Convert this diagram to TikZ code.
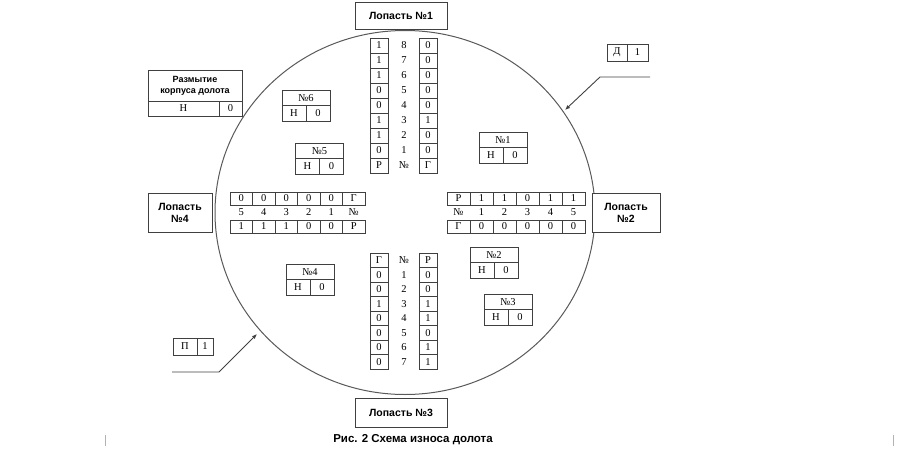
\documentclass[tikz,border=0pt]{standalone}
\usepackage{fontspec}
\setmainfont{Liberation Serif}
\newfontfamily\labfont{Liberation Sans}
\usetikzlibrary{shapes.geometric,arrows.meta}
\newcommand\wearbox[4]{%
  \node[tcell, minimum width=48pt, minimum height=15.5pt] (#1t) at (#2, #3+7.75) {#4};
  \node[tcell, minimum width=24pt, minimum height=15.5pt] (#1h) at (#2-12, #3+23.25) {Н};
  \node[tcell, minimum width=24pt, minimum height=15.5pt] (#1z) at (#2+12, #3+23.25) {0};
}
\begin{document}
\begin{tikzpicture}[x=1pt,y=-1pt,
  line/.style={draw=black!75, line width=0.8pt},
  tcell/.style={line, rectangle, inner sep=0pt, fill=white, font=\fontsize{10.5}{10.5}\selectfont},
  vcell/.style={tcell, minimum width=18pt, minimum height=15pt},
  bcell/.style={tcell, minimum width=18pt, minimum height=14.5pt},
  rcell/.style={tcell, minimum width=23pt, minimum height=13pt},
  lcell/.style={tcell, minimum width=22.5pt, minimum height=13pt},
  num/.style={inner sep=0pt, font=\fontsize{10.5}{10.5}\selectfont},
  blade/.style={line, rectangle, fill=white, inner sep=1pt, align=center,
    font=\labfont\bfseries\fontsize{10.5}{12}\selectfont},
]
\useasboundingbox (0,0) rectangle (900,450);
% bit body
\node[ellipse, draw=black!65, line width=1pt, minimum width=380pt, minimum height=364pt, inner sep=0pt] (body) at (405,212.5) {};

% blade labels
\node[blade, minimum width=92pt, minimum height=27pt] (b1) at (401,15.5) {Лопасть №1};
\node[blade, minimum width=92pt, minimum height=29pt] (b3) at (401,412.5) {Лопасть №3};
\node[blade, minimum width=64pt, minimum height=39pt] (b4) at (180,212.5) {Лопасть\\№4};
\node[blade, minimum width=68pt, minimum height=39pt] (b2) at (626,212.5) {Лопасть\\№2};

% body erosion box
\node[blade, minimum width=94pt, minimum height=31pt, font=\labfont\bfseries\fontsize{9}{11}\selectfont] (er) at (195,85.5) {Размытие\\корпуса долота};
\node[tcell, minimum width=71pt, minimum height=15pt] (erh) at (183.5,108.5) {Н};
\node[tcell, minimum width=23pt, minimum height=15pt] (erz) at (230.5,108.5) {0};

% blade 1 (top column)
\foreach \a/\m/\b [count=\i from 0] in {1/8/0,1/7/0,1/6/0,0/5/0,0/4/0,1/3/1,1/2/0,0/1/0,Р/№/Г} {
  \node[vcell] (tl\i) at (379,{45.5+15*\i}) {\a};
  \node[num] (tm\i) at (404,{45.5+15*\i}) {\m};
  \node[vcell] (tr\i) at (428,{45.5+15*\i}) {\b};
}
% blade 3 (bottom column)
\foreach \a/\m/\b [count=\i from 0] in {Г/№/Р,0/1/0,0/2/0,1/3/1,0/4/1,0/5/0,0/6/1,0/7/1} {
  \node[bcell] (dl\i) at (379,{260.25+14.5*\i}) {\a};
  \node[num] (dm\i) at (404,{260.25+14.5*\i}) {\m};
  \node[bcell] (dr\i) at (428,{260.25+14.5*\i}) {\b};
}
% blade 2 (right row)
\foreach \a/\m/\b [count=\i from 0] in {Р/№/Г,1/1/0,1/2/0,0/3/0,1/4/0,1/5/0} {
  \node[rcell] (rt\i) at ({458.5+23*\i},198.5) {\a};
  \node[num] (rm\i) at ({458.5+23*\i},212.5) {\m};
  \node[rcell] (rb\i) at ({458.5+23*\i},226.5) {\b};
}
% blade 4 (left row)
\foreach \a/\m/\b [count=\i from 0] in {0/5/1,0/4/1,0/3/1,0/2/0,0/1/0,Г/№/Р} {
  \node[lcell] (lt\i) at ({241.25+22.5*\i},198.5) {\a};
  \node[num] (lm\i) at ({241.25+22.5*\i},212.5) {\m};
  \node[lcell] (lb\i) at ({241.25+22.5*\i},226.5) {\b};
}

% wear boxes
\wearbox{w6}{306}{90}{№6}
\wearbox{w5}{319.5}{143}{№5}
\wearbox{w1}{503}{132}{№1}
\wearbox{w2}{494}{247}{№2}
\wearbox{w3}{508}{294}{№3}
\wearbox{w4}{310}{264}{№4}

% D 1 marker
\node[tcell, minimum width=20pt, minimum height=17pt] (dd) at (617,52.5) {Д};
\node[tcell, minimum width=21pt, minimum height=17pt] (d1) at (637.5,52.5) {1};
\coordinate (dA) at (650,77);
\coordinate (dB) at (600,77);
\coordinate (dT) at (565,110);
\draw[line, line width=0.9pt, -{Latex[length=5pt,width=4pt]}] (dA) -- (dB) -- (dT);

% P 1 marker
\node[tcell, minimum width=24pt, minimum height=17pt] (pp) at (185,346.5) {П};
\node[tcell, minimum width=16pt, minimum height=17pt] (p1) at (205,346.5) {1};
\coordinate (pA) at (172,372);
\coordinate (pB) at (219,372);
\coordinate (pT) at (257,334);
\draw[line, line width=0.9pt, -{Latex[length=5pt,width=4pt]}] (pA) -- (pB) -- (pT);

% caption
\node[inner sep=0pt, font=\labfont\bfseries\fontsize{11.5}{13}\selectfont] (cap) at (413,440) {Рис. 2 Схема износа долота};

% page edge ticks
\draw[black!30, line width=0.6pt] (105,435) -- (105,446);
\draw[black!30, line width=0.6pt] (893,435) -- (893,446);
\end{tikzpicture}
\end{document}
